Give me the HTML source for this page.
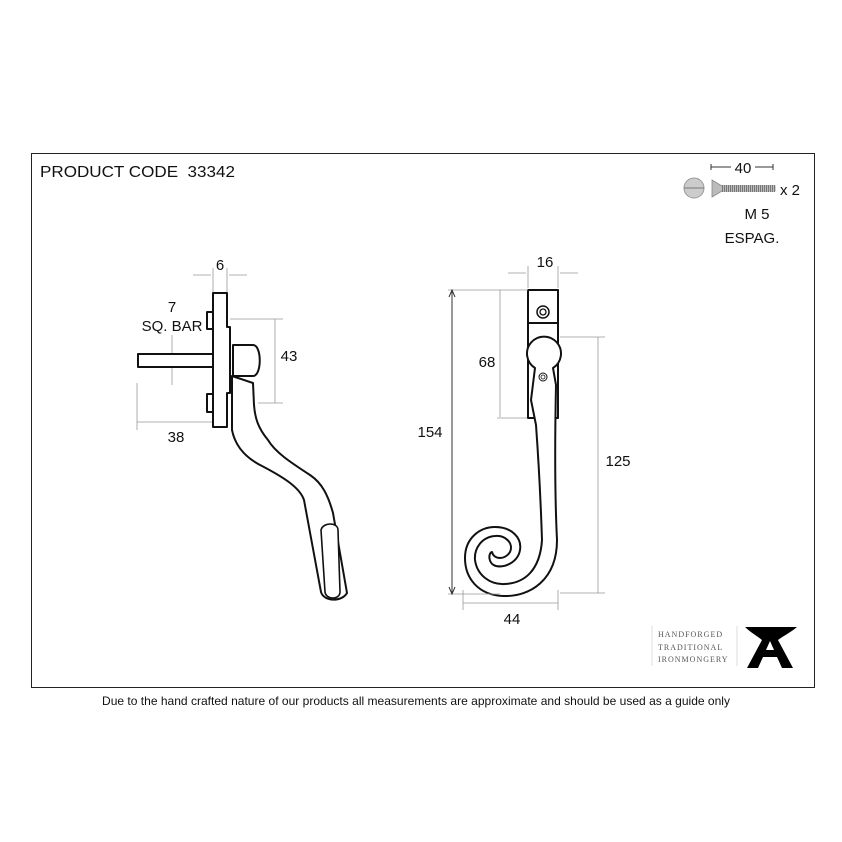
<!DOCTYPE html>
<html><head><meta charset="utf-8"><style>
html,body{margin:0;padding:0;background:#fff;}
svg{display:block;}
</style></head><body>
<svg width="842" height="842" viewBox="0 0 842 842" xmlns="http://www.w3.org/2000/svg" font-family="Liberation Sans, sans-serif">
<defs>
<pattern id="thr" width="2" height="6" patternUnits="userSpaceOnUse"><rect width="2" height="6" fill="#bbb"/><rect width="1" height="6" fill="#777"/></pattern>
</defs>
<rect x="31.5" y="153.5" width="783" height="534" fill="none" stroke="#222" stroke-width="1"/>
<text x="40" y="177" font-size="16" fill="#111" textLength="195" lengthAdjust="spacingAndGlyphs" xml:space="preserve">PRODUCT CODE  33342</text>

<!-- Left side view -->
<g stroke="#111" stroke-width="2" fill="#fff" stroke-linejoin="round">
  <rect x="138" y="354" width="75" height="13"/>
  <rect x="207" y="312" width="6" height="17"/>
  <rect x="207" y="394" width="6" height="18"/>
  <path d="M213 293 H227 V327 H230 V393 H227 V427 H213 Z"/>
  <path d="M232 376 L232 430 C236 450 250 460 262 466 C285 478 300 488 304 500 L321 592 C324 602 342 602 347 593 L333 513 C328 495 322 483 310 475 C290 462 275 452 268 440 C258 428 255 418 254 405 L253 383 Z"/>
  <path d="M233 345 H253 C262 345 262 376 253 376 H233 Z"/>
  <path d="M321 530 C323 522 338 522 338 530 L340 592 C340 600 326 600 325 592 Z" stroke-width="1.6"/>
</g>
<g stroke="#999" stroke-width="0.8" fill="none">
  <line x1="193" y1="275" x2="211" y2="275"/><line x1="229" y1="275" x2="247" y2="275"/>
  <line x1="213" y1="268" x2="213" y2="292"/><line x1="227" y1="268" x2="227" y2="292"/>
  <line x1="172" y1="335" x2="172" y2="353"/><line x1="172" y1="368" x2="172" y2="385"/>
  <line x1="137" y1="383" x2="137" y2="430"/>
  <line x1="137" y1="422" x2="212" y2="422"/>
  <line x1="230" y1="319" x2="283" y2="319"/><line x1="258" y1="403" x2="283" y2="403"/>
  <line x1="275" y1="319" x2="275" y2="403"/>
</g>
<text x="220" y="270" font-size="15" text-anchor="middle" fill="#111">6</text>
<text x="172" y="312" font-size="15" text-anchor="middle" fill="#111">7</text>
<text x="172" y="331" font-size="15" text-anchor="middle" fill="#111">SQ. BAR</text>
<text x="176" y="442" font-size="15" text-anchor="middle" fill="#111">38</text>
<text x="289" y="361" font-size="15" text-anchor="middle" fill="#111">43</text>

<!-- Right front view -->
<g stroke="#111" stroke-width="2" fill="#fff" stroke-linejoin="round">
  <rect x="528" y="290" width="30" height="33"/>
  <rect x="528" y="323" width="30" height="95"/>
  <path d="M535 368 A17 17 0 1 1 553 368 L556 385 Q554 480 557 540 C557 580 530 597 503 596 C478 595 465 578 465 558 C465 538 480 527 495 527 C512 527 522 538 520 550 C518 562 505 568 496 566 C488 564 488 553 492 552 C494 560 505 560 510 552 C514 543 505 535 495 536 C482 537 474 548 475 560 C477 575 490 585 505 584 C525 583 540 570 542 540 Q540 480 536 425 L531 400 Z"/>
  <circle cx="543" cy="312" r="6" stroke-width="1.5"/>
  <circle cx="543" cy="312" r="3" stroke-width="1.3"/>
  <circle cx="543" cy="377" r="4" stroke-width="1"/>
  <circle cx="543" cy="377" r="2" stroke-width="0.8"/>
</g>
<g stroke="#999" stroke-width="0.8" fill="none">
  <line x1="508" y1="273" x2="526" y2="273"/><line x1="560" y1="273" x2="578" y2="273"/>
  <line x1="528" y1="266" x2="528" y2="288"/><line x1="558" y1="266" x2="558" y2="288"/>
  <line x1="448" y1="290" x2="528" y2="290"/><line x1="448" y1="594" x2="500" y2="594"/>
  <line x1="497" y1="418" x2="527" y2="418"/>
  <line x1="500" y1="290" x2="500" y2="417"/>
  <line x1="560" y1="337" x2="605" y2="337"/><line x1="560" y1="593" x2="605" y2="593"/>
  <line x1="598" y1="337" x2="598" y2="593"/>
  <line x1="463" y1="590" x2="463" y2="610"/><line x1="558" y1="590" x2="558" y2="610"/>
  <line x1="463" y1="603" x2="558" y2="603"/>
</g>
<line x1="452" y1="291" x2="452" y2="593" stroke="#333" stroke-width="1"/>
<path d="M449 297 L452 290 L455 297 M449 587 L452 594 L455 587" stroke="#333" fill="none"/>
<text x="545" y="267" font-size="15" text-anchor="middle" fill="#111">16</text>
<text x="430" y="437" font-size="15" text-anchor="middle" fill="#111">154</text>
<text x="487" y="367" font-size="15" text-anchor="middle" fill="#111">68</text>
<text x="618" y="466" font-size="15" text-anchor="middle" fill="#111">125</text>
<text x="512" y="624" font-size="15" text-anchor="middle" fill="#111">44</text>

<!-- Screw -->
<circle cx="694" cy="188" r="10" fill="#ccc" stroke="#999"/>
<line x1="684" y1="188" x2="704" y2="188" stroke="#777"/>
<path d="M712 180 L722 186 H775 V191 H722 L712 197 Z" fill="#bbb" stroke="#888" stroke-width="0.8"/>
<rect x="722" y="185" width="53" height="7" fill="url(#thr)"/>
<path d="M711 164 V170 M773 164 V170 M711 167 H773" stroke="#333" stroke-width="1" fill="none"/>
<rect x="731" y="160" width="24" height="14" fill="#fff"/>
<text x="743" y="173" font-size="15" text-anchor="middle" fill="#111">40</text>
<text x="780" y="195" font-size="15" fill="#111">x 2</text>
<text x="757" y="219" font-size="15" text-anchor="middle" fill="#111">M 5</text>
<text x="752" y="243" font-size="15" text-anchor="middle" fill="#111">ESPAG.</text>

<!-- Logo -->
<line x1="652" y1="626" x2="652" y2="666" stroke="#ddd"/>
<line x1="737" y1="626" x2="737" y2="666" stroke="#ddd"/>
<g font-family="Liberation Serif, serif" font-size="8" fill="#555" letter-spacing="1">
<text x="658" y="637">HANDFORGED</text>
<text x="658" y="650">TRADITIONAL</text>
<text x="658" y="662">IRONMONGERY</text>
</g>
<path d="M745 627 H797 C790 633 783 636 778 640 L793 668 H782 L777 657 H763 L758 668 H747 L762 640 C757 636 750 632 745 627 Z M766 650 H774 L770 641 Z" fill="#000" fill-rule="evenodd"/>

<text x="416" y="705" font-size="12" text-anchor="middle" fill="#111" textLength="628" lengthAdjust="spacingAndGlyphs">Due to the hand crafted nature of our products all measurements are approximate and should be used as a guide only</text>
</svg>
</body></html>
